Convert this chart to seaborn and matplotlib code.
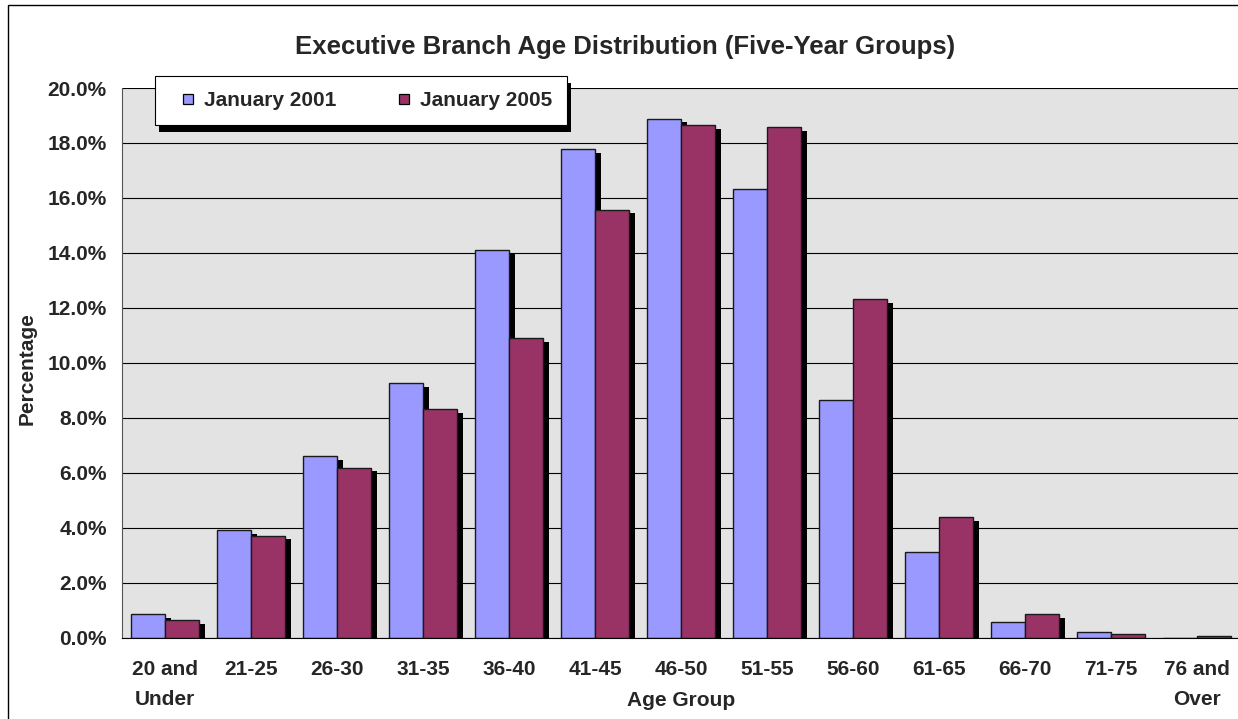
import numpy as np
import pandas as pd
import matplotlib
matplotlib.use("Agg")
import matplotlib.pyplot as plt
import matplotlib.patheffects as pe
from matplotlib.patches import Rectangle
from matplotlib.lines import Line2D
from matplotlib.ticker import FuncFormatter
import seaborn as sns

# values (percent of workforce)
age_groups = ["20 and\nUnder", "21-25", "26-30", "31-35", "36-40", "41-45", "46-50",
              "51-55", "56-60", "61-65", "66-70", "71-75", "76 and\nOver"]
jan_2001 = [0.85, 3.90, 6.60, 9.25, 14.10, 17.78, 18.88, 16.32, 8.63, 3.11, 0.55, 0.19, 0.0]
jan_2005 = [0.63, 3.71, 6.18, 8.30, 10.89, 15.57, 18.64, 18.58, 12.32, 4.37, 0.85, 0.12, 0.05]
series = ["January 2001", "January 2005"]
colors = ["#9999FF", "#993366"]

df = pd.DataFrame({
    "Age Group": age_groups * 2,
    "Percentage": jan_2001 + jan_2005,
    "Period": [series[0]] * len(age_groups) + [series[1]] * len(age_groups),
})

sns.set_style("white")
plt.rcParams["font.family"] = ["Liberation Sans", "DejaVu Sans"]
plt.rcParams["font.weight"] = "bold"

fig = plt.figure(figsize=(12.38, 7.19), dpi=100)
ax = fig.add_axes([122 / 1238, 81.5 / 719, 1118 / 1238, 549.5 / 719])
ax.set_facecolor("#e3e3e3")

sns.barplot(data=df, x="Age Group", y="Percentage", hue="Period", palette=colors,
            width=0.79, saturation=1, edgecolor="#1a1a1a", linewidth=1, ax=ax, legend=False)

# drop shadow behind each bar
for p in ax.patches:
    p.set_path_effects([pe.SimplePatchShadow(offset=(4.3, -2.6), shadow_rgbFace="black", alpha=1),
                        pe.Normal()])

ax.set_ylim(0, 20)
ax.set_xlim(-0.5, len(age_groups) - 0.5)
ax.set_yticks(np.arange(0, 20.1, 2))
ax.yaxis.set_major_formatter(FuncFormatter(lambda v, pos: f"{v:.1f}%"))
ax.grid(axis="y", color="black", linewidth=0.8)
ax.set_axisbelow(True)

for s in ["top", "right"]:
    ax.spines[s].set_visible(False)
ax.spines["left"].set_color("#555555")
ax.spines["bottom"].set_color("black")

ax.tick_params(axis="y", which="major", length=5, width=0.8, color="black", pad=6, labelsize=15)
ax.tick_params(axis="x", which="major", length=0, pad=16, labelsize=15)
ax.set_xticks(np.arange(-0.5, len(age_groups), 1), minor=True)
ax.tick_params(axis="x", which="minor", length=5, width=0.8, color="black")
for lbl in ax.get_xticklabels() + ax.get_yticklabels():
    lbl.set_fontweight("bold")
for lbl in ax.get_xticklabels():
    lbl.set_linespacing(1.77)

ax.set_xlabel("Age Group", fontsize=15, fontweight="bold", va="center")
ax.xaxis.set_label_coords(0.5, (637.5 - 701) / 549.5)
ax.set_ylabel("Percentage", fontsize=15, fontweight="bold", va="center")
ax.yaxis.set_label_coords((27 - 122) / 1118, (637.5 - 369) / 549.5)
fig.text(625 / 1238, 1 - 47 / 719, "Executive Branch Age Distribution (Five-Year Groups)",
         ha="center", va="center", fontsize=18.5, fontweight="bold")

# legend: small squares with black edge
handles = [Line2D([], [], linestyle="none", marker="s", markersize=7, markerfacecolor=c,
                  markeredgecolor="black", markeredgewidth=0.9) for c in colors]
leg = ax.legend(handles, series, loc="upper left", ncol=2,
                bbox_to_anchor=(155 / 1238, 1 - 76 / 719), bbox_transform=fig.transFigure,
                borderaxespad=0, frameon=True, fancybox=False, framealpha=1,
                edgecolor="black", fontsize=15, handlelength=1.75,
                handletextpad=-0.1, columnspacing=2.35, borderpad=0.72)
leg.get_frame().set_linewidth(0.8)
leg.get_frame().set_path_effects([pe.SimplePatchShadow(offset=(3, -5), shadow_rgbFace="black", alpha=1),
                                  pe.Normal()])
for t in leg.get_texts():
    t.set_fontweight("bold")

# outer chart border
fig.patches.append(Rectangle((8 / 1238, -0.1), 2, 1.1 - 5 / 719, transform=fig.transFigure,
                             fill=False, edgecolor="black", linewidth=1))

fig.savefig("out.png", dpi=100)
